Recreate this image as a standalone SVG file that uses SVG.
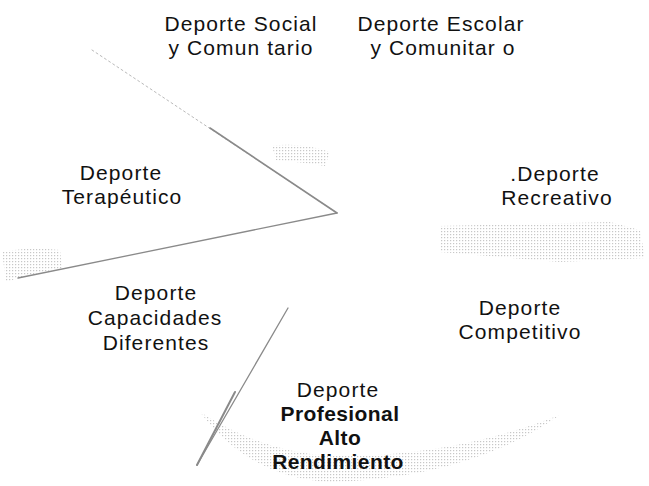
<svg xmlns="http://www.w3.org/2000/svg" width="649" height="486" viewBox="0 0 649 486">
<defs>
<style>
.t{font-family:"Liberation Sans",Arial,sans-serif;font-size:21px;fill:#111;text-anchor:middle;letter-spacing:1.1px}
.b{font-weight:bold;letter-spacing:0.4px}
.ln{stroke:#8a8a8a;fill:none;stroke-linecap:round}
.sh{fill:url(#dots)}
</style>
<pattern id="dots" width="3" height="3" patternUnits="userSpaceOnUse">
<rect width="1.2" height="1.2" fill="#9a9a9a"/>
</pattern>
</defs>
<rect width="649" height="486" fill="#fff"/>
<g id="shading" opacity="0.55">
<path class="sh" d="M200,412 Q262,452 330,456 Q450,458 560,415 Q470,478 330,482 Q250,478 200,412 Z"/>
<path class="sh" d="M2,252 Q30,246 60,250 L62,268 Q30,274 6,282 Z"/>
<path class="sh" d="M440,226 L610,222 L640,230 L645,258 L560,262 L440,252 Z"/>
<path class="sh" d="M272,146 Q300,142 330,152 L325,166 Q300,162 276,160 Z"/>
</g>
<g id="connectors">
<path class="ln" d="M92,50 L337,213" stroke-width="1" stroke-dasharray="2 3" opacity="0.6"/>
<path class="ln" d="M210,128 L337,213" stroke-width="1.6"/>
<path class="ln" d="M337,213 L18,278" stroke-width="1.3"/>
<path class="ln" d="M288,308 L197,465" stroke-width="1.3"/>
<path class="ln" d="M235,392 L197,465" stroke-width="2" stroke="#555"/>
</g>
<g id="n-social">
<text class="t" x="241" y="31">Deporte Social</text>
<text class="t" x="241" y="55">y Comun tario</text>
</g>
<g id="n-escolar">
<text class="t" x="441" y="31">Deporte Escolar</text>
<text class="t" x="443" y="55">y Comunitar o</text>
</g>
<g id="n-terapeutico">
<text class="t" x="121" y="180">Deporte</text>
<text class="t" x="122" y="204">Terapéutico</text>
</g>
<g id="n-recreativo">
<text class="t" x="555" y="181">.Deporte</text>
<text class="t" x="557" y="205">Recreativo</text>
</g>
<g id="n-capacidades">
<text class="t" x="156" y="300">Deporte</text>
<text class="t" x="155" y="325">Capacidades</text>
<text class="t" x="156" y="350">Diferentes</text>
</g>
<g id="n-competitivo">
<text class="t" x="520" y="315">Deporte</text>
<text class="t" x="520" y="339">Competitivo</text>
</g>
<g id="n-profesional">
<text class="t" x="338" y="397">Deporte</text>
<text class="t b" x="340" y="421">Profesional</text>
<text class="t b" x="340" y="445">Alto</text>
<text class="t b" x="338" y="469">Rendimiento</text>
</g>
</svg>
